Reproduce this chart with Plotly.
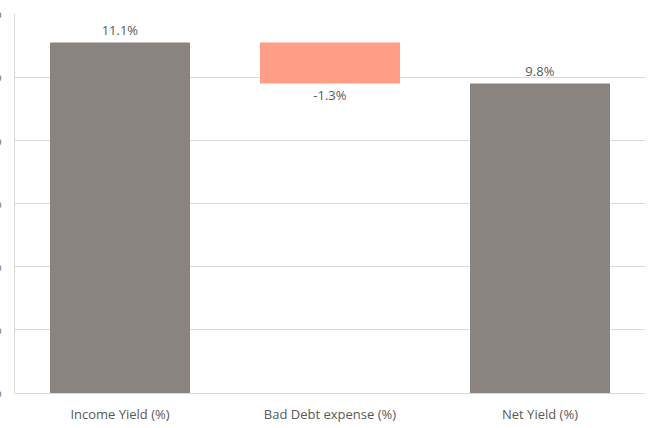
import plotly.graph_objects as go

categories = ["Income Yield (%)", "Bad Debt expense (%)", "Net Yield (%)"]
values = [11.1, -1.3, 9.8]
measures = ["absolute", "relative", "total"]
labels = ["11.1%", "-1.3%", "9.8%"]
tick_vals = [0, 2, 4, 6, 8, 10, 12]
tick_text = ["0%", "2%", "4%", "6%", "8%", "10%", "12%"]

gray = "#8A8480"
salmon = "#FF9E85"
text_color = "#595959"
font_family = "Open Sans"

fig = go.Figure(go.Waterfall(
    x=categories,
    y=values,
    measure=measures,
    text=labels,
    textposition="outside",
    textfont=dict(color=text_color, size=13, family=font_family),
    increasing=dict(marker=dict(color=gray)),
    decreasing=dict(marker=dict(color=salmon)),
    totals=dict(marker=dict(color=gray)),
    connector=dict(visible=False),
    cliponaxis=False,
))

fig.update_layout(
    width=651, height=428,
    margin=dict(l=15, r=6, t=14, b=35, autoexpand=False),
    paper_bgcolor="white",
    plot_bgcolor="white",
    showlegend=False,
    waterfallgap=1/3,
    font=dict(family=font_family, color=text_color, size=12),
    xaxis=dict(
        showgrid=False,
        showline=False,
        automargin=False,
        tickfont=dict(size=13, color=text_color),
        ticks="",
        ticklabelstandoff=12,
    ),
    yaxis=dict(
        range=[0, 12],
        tickvals=tick_vals,
        ticktext=tick_text,
        automargin=False,
        showgrid=True,
        gridcolor="#D9D9D9",
        gridwidth=1,
        zeroline=True,
        zerolinecolor="#D9D9D9",
        zerolinewidth=1,
        showline=True,
        linecolor="#D9D9D9",
        linewidth=1,
        ticks="",
        ticklabelstandoff=10,
        tickfont=dict(size=12, color=text_color),
    ),
)

fig.write_html("out.html")
